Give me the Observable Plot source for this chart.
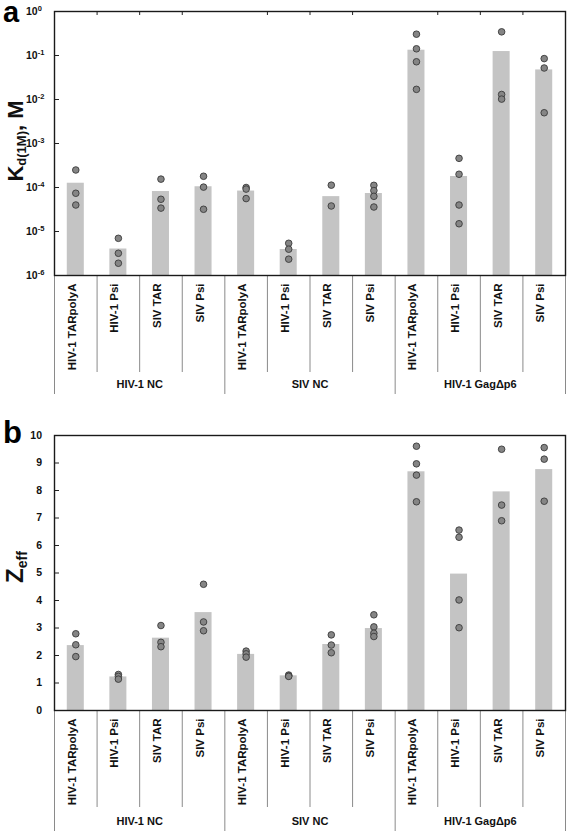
<!DOCTYPE html>
<html>
<head>
<meta charset="utf-8">
<script src="https://cdn.jsdelivr.net/npm/d3@7"></script>
<script src="https://cdn.jsdelivr.net/npm/@observablehq/plot@0.6"></script>
<style>
  html, body { margin: 0; padding: 0; background: #fff; }
  body { width: 567px; font-family: "Liberation Sans", Arial, sans-serif; }
  svg { display: block; }
</style>
</head>
<body>
<div id="chart"></div>
<script>
// ---------- data ----------
const groups = ["HIV-1 NC", "SIV NC", "HIV-1 GagΔp6"];
const rnas = ["HIV-1 TARpolyA", "HIV-1 Psi", "SIV TAR", "SIV Psi"];

// panel a: Kd(1M), M
const kdMean = [1.25e-4, 4.0e-6, 8.1e-5, 1.04e-4, 8.3e-5, 3.9e-6, 6.2e-5, 7.3e-5, 0.132, 1.78e-4, 0.123, 0.047];
const kdPoints = [
  [2.5e-4, 7.4e-5, 4.0e-5],
  [7.0e-6, 3.2e-6, 1.9e-6],
  [1.55e-4, 5.4e-5, 3.4e-5],
  [1.8e-4, 1.02e-4, 3.2e-5],
  [1.0e-4, 9.2e-5, 5.6e-5],
  [5.4e-6, 3.96e-6, 2.35e-6],
  [1.13e-4, 3.8e-5],
  [1.12e-4, 8.5e-5, 6.3e-5, 3.6e-5],
  [0.305, 0.142, 0.072, 0.017],
  [4.6e-4, 2.0e-4, 4.0e-5, 1.5e-5],
  [0.345, 0.013, 0.0102],
  [0.085, 0.052, 0.005]
];
const kdTickExponents = [0, -1, -2, -3, -4, -5, -6];

// panel b: Zeff
const zMean = [2.36, 1.22, 2.63, 3.56, 2.04, 1.26, 2.40, 2.98, 8.68, 4.96, 7.95, 8.76];
const zPoints = [
  [2.79, 2.39, 1.96],
  [1.31, 1.24, 1.14],
  [3.09, 2.48, 2.32],
  [4.59, 3.22, 2.90],
  [2.16, 2.06, 1.94],
  [1.29, 1.26, 1.24],
  [2.75, 2.38, 2.10],
  [3.48, 3.04, 2.81, 2.69],
  [9.61, 8.97, 8.56, 7.59],
  [6.56, 6.30, 4.02, 3.01],
  [9.50, 7.47, 6.90],
  [9.56, 9.14, 7.61]
];
const zTicks = [0, 1, 2, 3, 4, 5, 6, 7, 8, 9, 10];

// ---------- derived tables ----------
const categories = groups.flatMap((g, gi) => rnas.map((r, ri) => ({group: g, rna: r, i: gi * rnas.length + ri})));
const nCat = categories.length;
const boundaries = d3.range(0, nCat + 1);
const groupBounds = boundaries.filter(b => b % rnas.length === 0);
const innerBounds = boundaries.filter(b => b % rnas.length !== 0);
const groupCenters = groups.map((g, gi) => ({group: g, x: gi * rnas.length + rnas.length / 2}));

const HALF = 0.2;
const FONT = "Liberation Sans, Arial, sans-serif";
const W = 567, ML = 54, MR = 2;
const PW = W - ML - MR;
const BAR = "#c4c4c4", DOT = "#858585", DOTS = "#3a3a3a", DIV = "#8a8a8a";

function panel({means, points, yScale, yBase, height, mt, mb, plotH, yTickMarks, topTicks, labelDy, groupDy}) {
  const bars = means.map((v, i) => ({i, v}));
  const pts = points.flatMap((arr, i) => arr.map(v => ({i, v})));
  return Plot.plot({
    width: W, height, marginLeft: ML, marginRight: MR, marginTop: mt, marginBottom: mb,
    style: {fontFamily: FONT, background: "white"},
    x: {type: "linear", domain: [0, nCat], axis: null},
    y: {...yScale, axis: null},
    marks: [
      Plot.rectY(bars, {x1: d => d.i + 0.5 - HALF, x2: d => d.i + 0.5 + HALF, y1: yBase, y2: "v", fill: BAR}),
      Plot.dot(pts, {x: d => d.i + 0.5, y: "v", r: 3.3, fill: DOT, stroke: DOTS, strokeWidth: 0.9}),
      // category dividers below the frame
      Plot.ruleX(innerBounds, {x: d => d, insetTop: plotH, insetBottom: -(labelDy + 89), stroke: DIV, strokeWidth: 1}),
      Plot.ruleX(groupBounds, {x: d => d, insetTop: plotH, insetBottom: -(groupDy + 7), stroke: DIV, strokeWidth: 1}),
      // small inward ticks on top edge
      ...(topTicks ? [Plot.ruleX(innerBounds, {x: d => d, insetBottom: plotH - 4, stroke: "#222", strokeWidth: 1})] : []),
      // small inward ticks on left edge
      Plot.ruleY(yTickMarks, {y: d => d, insetRight: PW - 5, stroke: "#222", strokeWidth: 1}),
      Plot.frame({stroke: "#1a1a1a", strokeWidth: 1.4}),
      Plot.text(categories, {x: d => d.i + 0.5, text: "rna", frameAnchor: "bottom", dy: labelDy, rotate: -90, textAnchor: "end", fontSize: 11.5, fontWeight: "bold", fill: "#111"}),
      Plot.text(groupCenters, {x: "x", text: "group", frameAnchor: "bottom", dy: groupDy, fontSize: 11, fontWeight: "bold", fill: "#111"})
    ]
  });
}

const chart = document.getElementById("chart");

// ---- panel a ----
const kdTickVals = kdTickExponents.map(e => Math.pow(10, e));
const svgA = panel({
  means: kdMean, points: kdPoints,
  yScale: {type: "log", domain: [1e-6, 1]}, yBase: 1e-6,
  height: 405, mt: 11, mb: 130, plotH: 264,
  yTickMarks: kdTickVals, topTicks: true, labelDy: 8, groupDy: 112
});
// log tick labels as 10 + superscript, placed through the y scale
{
  const ys = svgA.scale("y");
  const g = d3.select(svgA).append("g").attr("font-family", FONT).attr("font-weight", "bold").attr("fill", "#111").attr("text-anchor", "start");
  kdTickExponents.forEach(e => {
    const t = g.append("text").attr("x", 26).attr("y", ys.apply(Math.pow(10, e))).attr("dy", "0.36em").attr("font-size", 10.5);
    t.append("tspan").text("10");
    t.append("tspan").attr("dy", "-0.45em").attr("font-size", 7.5).text(e === 0 ? "0" : "-" + Math.abs(e));
  });
}
d3.select(svgA).append("text").attr("x", 3).attr("y", 22).attr("text-anchor", "start").attr("font-family", FONT).attr("font-weight", "bold").attr("font-size", 29).attr("fill", "#000").text("a");
{
  const t = d3.select(svgA).append("text").attr("transform", "translate(23,141) rotate(-90)")
    .attr("text-anchor", "middle").attr("font-family", FONT).attr("font-weight", "bold").attr("font-size", 22).attr("fill", "#111");
  t.append("tspan").text("K");
  t.append("tspan").attr("dy", 3).attr("font-size", 13).text("d(1M)");
  t.append("tspan").attr("dy", -3).text(", M");
}
chart.appendChild(svgA);

// ---- panel b ----
const svgB = panel({
  means: zMean, points: zPoints,
  yScale: {type: "linear", domain: [0, 10]}, yBase: 0,
  height: 427, mt: 30, mb: 122, plotH: 275,
  yTickMarks: zTicks, topTicks: false, labelDy: 8, groupDy: 114
});
{
  const ys = svgB.scale("y");
  const g = d3.select(svgB).append("g").attr("font-family", FONT).attr("font-weight", "bold").attr("fill", "#111").attr("text-anchor", "end");
  zTicks.forEach(v => {
    g.append("text").attr("x", 42).attr("y", ys.apply(v)).attr("dy", "0.36em").attr("font-size", 10.5).text(String(v));
  });
}
d3.select(svgB).append("text").attr("x", 3).attr("y", 38).attr("text-anchor", "start").attr("font-family", FONT).attr("font-weight", "bold").attr("font-size", 31).attr("fill", "#000").text("b");
{
  const t = d3.select(svgB).append("text").attr("transform", "translate(23,162) rotate(-90)")
    .attr("text-anchor", "middle").attr("font-family", FONT).attr("font-weight", "bold").attr("font-size", 24).attr("fill", "#111");
  t.append("tspan").text("Z");
  t.append("tspan").attr("dy", 4).attr("font-size", 14).text("eff");
}
chart.appendChild(svgB);
</script>
</body>
</html>
